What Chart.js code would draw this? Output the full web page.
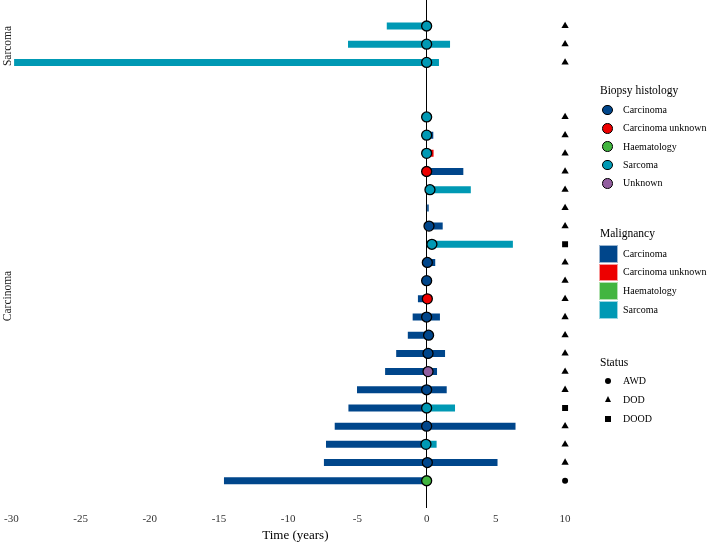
<!DOCTYPE html>
<html>
<head>
<meta charset="utf-8">
<script src="https://cdn.jsdelivr.net/npm/chart.js@4.4.1/dist/chart.umd.min.js"></script>
<style>
  html, body { margin: 0; padding: 0; background: #fff; }
  #wrap { position: relative; width: 707px; height: 543px; font-family: "Liberation Serif", "DejaVu Serif", serif; color: #000; }
  #chart { position: absolute; left: 0; top: 0; }
  .strip { position: absolute; font-size: 11.5px; white-space: nowrap; transform: translate(-50%, -50%) rotate(-90deg); color: #1a1a1a; }
  .lg-title { position: absolute; left: 600px; font-size: 11.5px; line-height: 14px; transform: translateY(-50%); white-space: nowrap; }
  .lg-text { position: absolute; left: 623px; font-size: 10px; line-height: 12px; transform: translateY(-50%); white-space: nowrap; }
  .key { position: absolute; box-sizing: border-box; }
</style>
</head>
<body>
<div id="wrap">
  <canvas id="chart" width="707" height="543"></canvas>
</div>
<script>
// --- datos ---
const groups = ['Sarcoma', 'Carcinoma'];
const rowGroup = ['Sarcoma', 'Sarcoma', 'Sarcoma',
  'Carcinoma', 'Carcinoma', 'Carcinoma', 'Carcinoma', 'Carcinoma', 'Carcinoma', 'Carcinoma',
  'Carcinoma', 'Carcinoma', 'Carcinoma', 'Carcinoma', 'Carcinoma', 'Carcinoma', 'Carcinoma',
  'Carcinoma', 'Carcinoma', 'Carcinoma', 'Carcinoma', 'Carcinoma', 'Carcinoma', 'Carcinoma'];

// tiempo antes de la biopsia (años) y tipo de malignidad
const preStart = [-2.88, -5.68, -29.8, null, null, null, null, null, -0.05, null, null, null, null,
  -0.63, -1.01, -1.36, -2.2, -3.0, -5.03, -5.65, -6.64, -7.27, -7.42, -14.64];
const preType = ['Sarcoma', 'Sarcoma', 'Sarcoma', 'Carcinoma', 'Carcinoma', 'Carcinoma', 'Carcinoma',
  'Carcinoma', 'Carcinoma', 'Carcinoma', 'Carcinoma', 'Carcinoma', 'Carcinoma', 'Carcinoma', 'Carcinoma',
  'Carcinoma', 'Carcinoma', 'Carcinoma', 'Carcinoma', 'Carcinoma', 'Carcinoma', 'Carcinoma', 'Carcinoma', 'Carcinoma'];

// tiempo después de la biopsia (años) y tipo de malignidad
const postEnd = [null, 1.69, 0.89, null, 0.48, 0.5, 2.65, 3.19, 0.15, 1.16, 6.23, 0.62, null, null,
  0.96, 0.14, 1.33, 0.75, 1.45, 2.05, 6.42, 0.72, 5.12, null];
const postType = ['Sarcoma', 'Sarcoma', 'Sarcoma', 'Carcinoma', 'Carcinoma', 'Carcinoma unknown', 'Carcinoma',
  'Sarcoma', 'Carcinoma', 'Carcinoma', 'Sarcoma', 'Carcinoma', 'Carcinoma', 'Carcinoma', 'Carcinoma',
  'Carcinoma', 'Carcinoma', 'Carcinoma', 'Carcinoma', 'Sarcoma', 'Carcinoma', 'Sarcoma', 'Carcinoma', 'Carcinoma'];

// biopsia
const biopsyX = [0, 0, 0, 0, 0, 0, 0, 0.24, null, 0.17, 0.38, 0.05, 0, 0.05, 0, 0.14, 0.1, 0.1, 0, 0, 0, -0.05, 0.05, 0];
const biopsyType = ['Sarcoma', 'Sarcoma', 'Sarcoma', 'Sarcoma', 'Sarcoma', 'Sarcoma', 'Carcinoma unknown',
  'Sarcoma', null, 'Carcinoma', 'Sarcoma', 'Carcinoma', 'Carcinoma', 'Carcinoma unknown', 'Carcinoma',
  'Carcinoma', 'Carcinoma', 'Unknown', 'Carcinoma', 'Sarcoma', 'Carcinoma', 'Sarcoma', 'Carcinoma', 'Haematology'];

// estado final
const statusX = 10;
const status = ['DOD', 'DOD', 'DOD', 'DOD', 'DOD', 'DOD', 'DOD', 'DOD', 'DOD', 'DOD', 'DOOD', 'DOD',
  'DOD', 'DOD', 'DOD', 'DOD', 'DOD', 'DOD', 'DOD', 'DOOD', 'DOD', 'DOD', 'DOD', 'AWD'];

const typeNames = ['Carcinoma', 'Carcinoma unknown', 'Haematology', 'Sarcoma', 'Unknown'];
const typeColors = ['#00468B', '#ED0000', '#42B540', '#0099B4', '#925E9F'];
const malignancyNames = ['Carcinoma', 'Carcinoma unknown', 'Haematology', 'Sarcoma'];
const statusNames = ['AWD', 'DOD', 'DOOD'];
const statusShapes = ['circle', 'triangle', 'rect'];
const statusSizes = [3, 4.2, 4.2];

const xTicks = [-30, -25, -20, -15, -10, -5, 0, 5, 10];

// --- helpers ---
const FONT = '"Liberation Serif", "DejaVu Serif", serif';
const colorOf = t => typeColors[typeNames.indexOf(t)];
const slot = rowGroup.map((g, i) => i + groups.indexOf(g) * 2);

const preBars = preStart
  .map((s, i) => s === null ? null : { y: slot[i], x: [s, 0], type: preType[i] })
  .filter(Boolean);
const postBars = postEnd
  .map((e, i) => e === null ? null : { y: slot[i], x: [0, e], type: postType[i] })
  .filter(Boolean);
const biopsyPts = biopsyX
  .map((x, i) => x === null ? null : { x, y: slot[i], type: biopsyType[i] })
  .filter(Boolean);
const statusPts = status.map((s, i) => ({ x: statusX, y: slot[i], s }));

const barDataset = (label, data) => ({
  type: 'bar', label, data, indexAxis: 'y', grouped: false, maxBarThickness: 7,
  borderWidth: 0, order: 3,
  backgroundColor: ctx => ctx.raw ? colorOf(ctx.raw.type) : '#000'
});

new Chart(document.getElementById('chart'), {
  type: 'bar',
  data: {
    datasets: [
      barDataset('pre', preBars),
      barDataset('post', postBars),
      {
        type: 'scatter', label: 'Biopsy', data: biopsyPts, order: 1,
        pointRadius: 5, pointHoverRadius: 5, borderColor: '#000', borderWidth: 1.3,
        backgroundColor: ctx => ctx.raw ? colorOf(ctx.raw.type) : '#000'
      },
      {
        type: 'scatter', label: 'Status', data: statusPts, order: 1,
        pointStyle: ctx => ctx.raw ? statusShapes[statusNames.indexOf(ctx.raw.s)] : 'circle',
        pointRadius: ctx => ctx.raw ? statusSizes[statusNames.indexOf(ctx.raw.s)] : 3,
        backgroundColor: '#000', borderColor: '#000', borderWidth: 0
      }
    ]
  },
  options: {
    responsive: false,
    animation: false,
    events: [],
    layout: { autoPadding: false, padding: { left: 0, right: 117, top: 0, bottom: 0 } },
    plugins: { legend: { display: false }, tooltip: { enabled: false } },
    scales: {
      x: {
        type: 'linear', min: -30.77, max: 11.8, offset: false,
        afterBuildTicks: scale => { scale.ticks = xTicks.map(v => ({ value: v })); },
        ticks: { color: '#333', font: { family: FONT, size: 11 }, padding: 4, maxRotation: 0 },
        grid: {
          offset: false, drawTicks: false, lineWidth: 1,
          color: ctx => ctx.tick && ctx.tick.value === 0 ? '#000' : 'rgba(0,0,0,0)'
        },
        border: { display: false },
        title: { display: true, text: 'Time (years)', color: '#000', font: { family: FONT, size: 13 }, padding: { top: -2, bottom: 0 } }
      },
      y: {
        type: 'linear', min: -1.43, max: 26.51, reverse: true, display: false,
        offset: false, grid: { offset: false }
      }
    }
  }
});

// --- leyenda y etiquetas de faceta (HTML) ---
const wrap = document.getElementById('wrap');
const add = (cls, css, text) => {
  const d = document.createElement('div');
  d.className = cls;
  Object.assign(d.style, css);
  if (text) d.textContent = text;
  wrap.appendChild(d);
  return d;
};

add('strip', { left: '7px', top: '46px' }, 'Sarcoma');
add('strip', { left: '7px', top: '296px' }, 'Carcinoma');

// Biopsy histology
add('lg-title', { top: '90px' }, 'Biopsy histology');
typeNames.forEach((t, k) => {
  const y = 110 + k * 18.35;
  add('key', { left: '602px', top: (y - 5.3) + 'px', width: '10.6px', height: '10.6px',
    borderRadius: '50%', background: typeColors[k], border: '1.3px solid #000' });
  add('lg-text', { top: y + 'px' }, t);
});

// Malignancy
add('lg-title', { top: '232.7px' }, 'Malignancy');
malignancyNames.forEach((t, k) => {
  const y = 253.7 + k * 18.7;
  add('key', { left: '599.3px', top: (y - 8.9) + 'px', width: '18.4px', height: '17.8px',
    background: colorOf(t), border: '0.6px solid rgba(255,255,255,0.6)' });
  add('lg-text', { top: y + 'px' }, t);
});

// Status
add('lg-title', { top: '361.7px' }, 'Status');
statusNames.forEach((t, k) => {
  const y = 381 + k * 18.85;
  const shape = statusShapes[k];
  if (shape === 'circle') {
    add('key', { left: '605.3px', top: (y - 3) + 'px', width: '6px', height: '6px', borderRadius: '50%', background: '#000' });
  } else if (shape === 'triangle') {
    add('key', { left: '604.6px', top: (y - 3.4) + 'px', width: 0, height: 0,
      borderLeft: '3.7px solid transparent', borderRight: '3.7px solid transparent', borderBottom: '6.4px solid #000' });
  } else {
    add('key', { left: '605.3px', top: (y - 3) + 'px', width: '6px', height: '6px', background: '#000' });
  }
  add('lg-text', { top: y + 'px' }, t);
});
</script>
</body>
</html>
